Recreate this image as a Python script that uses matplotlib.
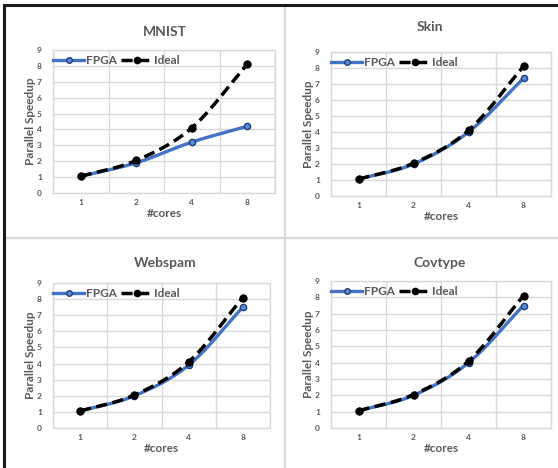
import numpy as np
import matplotlib
matplotlib.use("Agg")
import matplotlib.pyplot as plt
from matplotlib.lines import Line2D

plt.rcParams['font.family'] = ['Lato', 'DejaVu Sans']

cores = ["1", "2", "4", "8"]
titles = ["MNIST", "Skin", "Webspam", "Covtype"]
fpga_mnist = [1.05, 1.9, 3.2, 4.2]
fpga_skin = [1.05, 2.0, 4.0, 7.35]
fpga_webspam = [1.05, 2.0, 3.9, 7.5]
fpga_covtype = [1.05, 2.0, 4.0, 7.5]
ideal = [1.05, 2.05, 4.1, 8.1]
fpga_series = [fpga_mnist, fpga_skin, fpga_webspam, fpga_covtype]

W, H = 558, 468
fig = plt.figure(figsize=(W / 100, H / 100), dpi=100)

GRAY_TXT = "#595959"
GRID = "#d9d9d9"
BLUE = "#4472c4"


def px(l, t, r, b):
    return [l / W, 1 - b / H, (r - l) / W, (b - t) / H]


def smooth(x, y, n=30):
    # Catmull-Rom style smoothing between consecutive points
    x = np.asarray(x, float)
    y = np.asarray(y, float)
    P = np.column_stack([x, y])
    P = np.vstack([P[0] - (P[1] - P[0]), P, P[-1] + (P[-1] - P[-2])])
    out = []
    for i in range(1, len(P) - 2):
        p0, p1, p2, p3 = P[i - 1], P[i], P[i + 1], P[i + 2]
        t = np.linspace(0, 1, n)[:, None]
        c1 = p1 + (p2 - p0) / 6
        c2 = p2 - (p3 - p1) / 6
        seg = ((1 - t) ** 3) * p1 + 3 * ((1 - t) ** 2) * t * c1 + 3 * (1 - t) * t ** 2 * c2 + t ** 3 * p2
        out.append(seg if i == 1 else seg[1:])
    s = np.vstack(out)
    return s[:, 0], s[:, 1]


# panel frames
bg = fig.add_axes([0, 0, 1, 1])
bg.set_xlim(0, W)
bg.set_ylim(H, 0)
bg.axis("off")
bg.plot([285, 285], [5, H], color=GRID, lw=1.6)
bg.plot([4, W], [238, 238], color=GRID, lw=1.6)
bg.plot([4, W], [5, 5], color="#1a1a1a", lw=2.2)
bg.plot([4, 4], [5, H], color="#1a1a1a", lw=2.2)

boxes = [(53, 50, 275, 193), (331, 52, 551, 196), (53, 283, 270, 428), (331, 281, 551, 428)]
title_pos = [(165, 32), (430, 27), (165, 263), (440, 263)]

x = np.arange(len(cores))
for k, (box, title, fp) in enumerate(zip(boxes, titles, fpga_series)):
    ax = fig.add_axes(px(*box))
    ax.set_xlim(-0.5, len(cores) - 0.5)
    ax.set_ylim(0, 9)
    ax.set_yticks(range(10))
    ax.set_xticks(x)
    ax.set_xticklabels(cores)
    ax.set_xticks(np.arange(-0.5, len(cores), 1.0), minor=True)
    ax.grid(True, which="minor", axis="x", color=GRID, lw=1.0)
    ax.grid(True, which="major", axis="y", color=GRID, lw=1.0)
    ax.tick_params(which="both", length=0, labelsize=6, colors=GRAY_TXT)
    ax.tick_params(axis="y", pad=8)
    ax.tick_params(axis="x", pad=4)
    for lab in ax.get_xticklabels() + ax.get_yticklabels():
        lab.set_fontweight("bold")
    for s in ax.spines.values():
        s.set_color(GRID)
        s.set_linewidth(1.0)
    ax.set_axisbelow(True)

    sx, sy = smooth(x, fp)
    ax.plot(sx, sy, color=BLUE, lw=2.4, solid_capstyle="round", zorder=3)
    ax.plot(x, fp, "o", ms=4.5, mfc="#5b8bd6", mec="#1f3f7a", mew=1.0, zorder=4)
    ix, iy = smooth(x, ideal)
    ax.plot(ix, iy, color="black", lw=2.5, dashes=(3.2, 1.6), zorder=5)
    ax.plot(x, ideal, "o", ms=5, color="black", zorder=6)

    ax.set_xlabel("#cores", fontsize=8.5, fontweight="bold", color=GRAY_TXT, labelpad=2)
    ax.set_ylabel("Parallel Speedup", fontsize=8.5, fontweight="bold", color=GRAY_TXT, labelpad=1)
    tx, ty = title_pos[k]
    fig.text(tx / W, 1 - ty / H, title, ha="center", va="center", fontsize=10,
             fontweight="bold", color=GRAY_TXT)

    h1 = Line2D([], [], color=BLUE, lw=2.4, marker="o", ms=4, mfc="#5b8bd6", mec="#1f3f7a")
    h2 = Line2D([], [], color="black", lw=2.5, dashes=(3.2, 1.6), marker="o", ms=4.5)
    leg = ax.legend([h1, h2], ["FPGA", "Ideal"], ncol=2, loc="upper left",
                    bbox_to_anchor=(-0.02, 1.0), frameon=False, handlelength=2.6,
                    handletextpad=0.15, columnspacing=0.4, borderaxespad=0,
                    prop={"size": 8.5, "weight": "bold"})
    for t in leg.get_texts():
        t.set_color(GRAY_TXT)

fig.savefig("out.png", dpi=100)
